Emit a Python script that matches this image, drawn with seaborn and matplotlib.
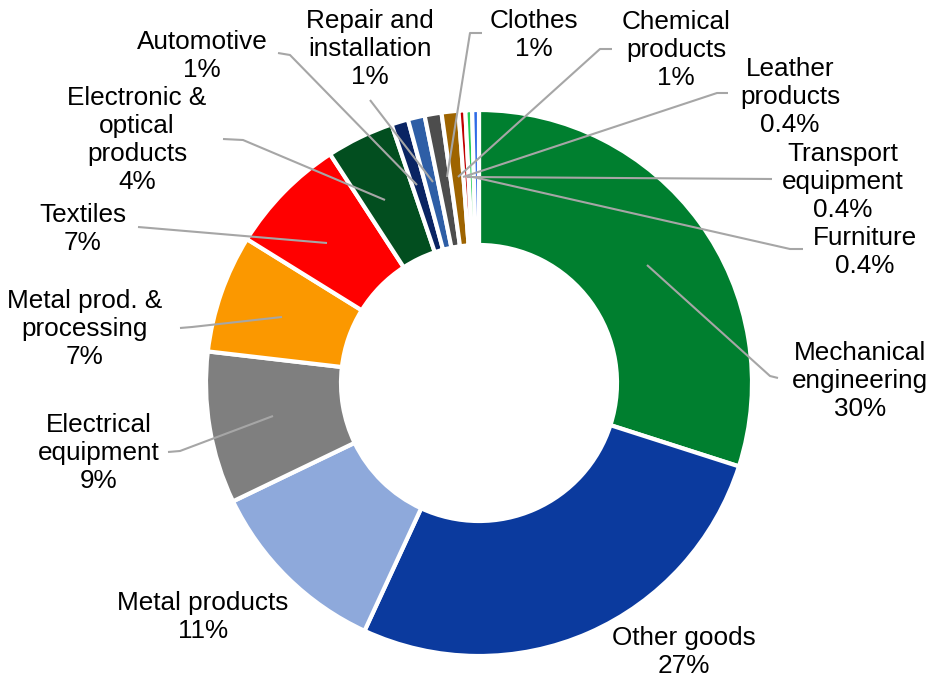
import matplotlib
matplotlib.use("Agg")
import matplotlib.pyplot as plt
import seaborn as sns

# Share of companies by sector (%), clockwise from 12 o'clock
sectors = [
    "Mechanical\nengineering", "Other goods", "Metal products",
    "Electrical\nequipment", "Metal prod. &\nprocessing", "Textiles",
    "Electronic &\noptical\nproducts", "Automotive", "Repair and\ninstallation",
    "Clothes", "Chemical\nproducts", "Leather\nproducts",
    "Transport\nequipment", "Furniture",
]
shares = [30, 27, 11, 9, 7, 7, 4, 1, 1, 1, 1, 0.4, 0.4, 0.4]
sector_colors = [
    "#007F2F", "#0B3A9E", "#8EA9DB", "#7F7F7F", "#FB9800", "#FF0000",
    "#024E1F", "#0A2463", "#2E5EA6", "#4D4D4D", "#9E6400", "#C00000",
    "#22CC55", "#2E6BE6",
]

sns.set_theme(style="white")
plt.rcParams["font.family"] = ["Liberation Sans", "DejaVu Sans"]

W, H = 937, 679
fig = plt.figure(figsize=(W / 100, H / 100), dpi=100)
ax = fig.add_axes([0, 0, 1, 1])

cx, cy = 479, H - 383
r_out, r_in = 273, 138
palette = sns.color_palette(sector_colors)
ax.pie(shares, colors=palette, startangle=90, counterclock=False,
       center=(cx, cy), radius=r_out, frame=True,
       wedgeprops=dict(width=r_out - r_in, edgecolor="white", linewidth=3))
ax.set_xlim(0, W)
ax.set_ylim(0, H)
ax.set_aspect("equal")
ax.axis("off")

# label block centres and leader-line paths (pixel layout, y from top)
label_pos = [
    (860, 381), (684, 652), (203, 617), (99, 453), (85, 329), (83, 229),
    (137, 140), (202, 56), (370, 49), (534, 35), (676, 50), (790, 97),
    (843, 182), (865, 252),
]
leaders = [
    [(647, 265), (770, 376), (778, 378)],
    None,
    None,
    [(273, 416), (180, 451), (168, 452)],
    [(282, 317), (192, 327), (180, 328)],
    [(327, 243), (150, 228), (138, 227)],
    [(385, 200), (243, 140), (223, 139)],
    [(417, 185), (290, 55), (278, 53)],
    [(433, 182), (370, 100)],
    [(447, 177), (470, 33), (482, 33)],
    [(458, 177), (600, 49), (612, 49)],
    [(463, 177), (717, 93), (728, 93)],
    [(467, 177), (772, 179)],
    [(473, 177), (790, 249), (803, 249)],
]

for name, val, (tx, ty), path in zip(sectors, shares, label_pos, leaders):
    if path is not None:
        xs = [p[0] for p in path]
        ys = [H - p[1] for p in path]
        ax.plot(xs, ys, color="#A6A6A6", lw=1.5, solid_capstyle="butt", zorder=3)
    ax.text(tx, H - ty, f"{name}\n{val:g}%", ha="center", va="center",
            fontsize=18.8, color="#000000", linespacing=1.22, zorder=4)

fig.savefig("out.png", dpi=100)
